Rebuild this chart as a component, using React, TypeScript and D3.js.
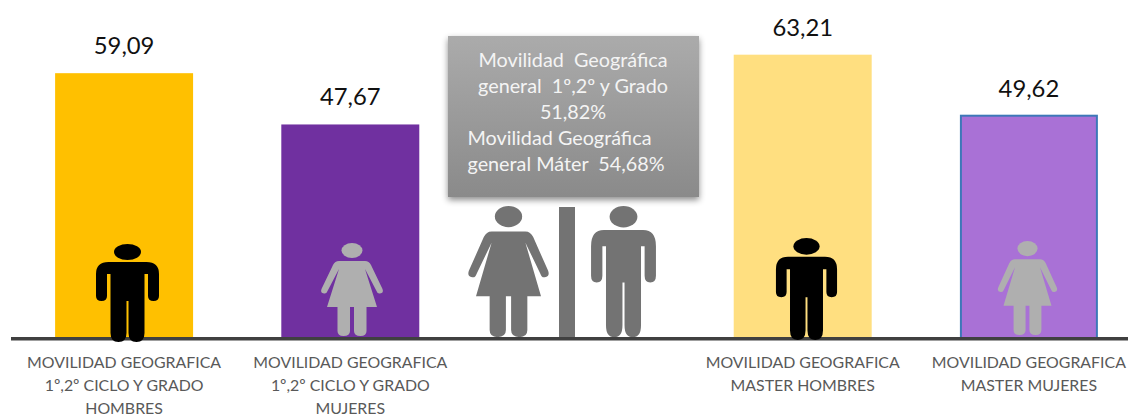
import React from "react";
import * as d3 from "d3";

const categories = ["hg", "mg", "centro", "hm", "mm"];
const barKeys = ["hg", "mg", "hm", "mm"];
const barValues = [59.09, 47.67, 63.21, 49.62];
const valueLabels = ["59,09", "47,67", "63,21", "49,62"];
const barColors = ["#FFC000", "#7030A0", "#FFDF80", "#A971D6"];
const barStrokes = ["none", "none", "none", "#3D78B8"];
const labelLines = [
  ["MOVILIDAD GEOGRAFICA", "1º,2º CICLO Y GRADO", "HOMBRES"],
  ["MOVILIDAD GEOGRAFICA", "1º,2º CICLO Y GRADO", "MUJERES"],
  ["MOVILIDAD GEOGRAFICA", "MASTER HOMBRES"],
  ["MOVILIDAD GEOGRAFICA", "MASTER MUJERES"],
];
const boxLines = [
  { text: "Movilidad  Geográfica", anchor: "middle" },
  { text: "general  1º,2º y Grado", anchor: "middle" },
  { text: "51,82%", anchor: "middle" },
  { text: "Movilidad Geográfica", anchor: "start" },
  { text: "general Máter  54,68%", anchor: "start" },
];

const W = 1128;
const H = 417;
const FONT = "Lato, Carlito, 'Open Sans', sans-serif";
const BASE = 338.5;

const x = d3.scaleBand<string>().domain(categories).range([11, 1142]).paddingInner(0.39).paddingOuter(0.195);
const y = d3.scaleLinear().domain([0, 75]).range([BASE, BASE - 75 * 4.49]);

const MAN_BODY =
  "M-19,18 H19 Q31.5,18 31.5,30 V52 Q31.5,57 26,57 Q20.5,57 20.5,52 V30 H17 V89 Q17,98 9,98 Q1,98 1,89 V57 H-1 V89 Q-1,98 -9,98 Q-17,98 -17,89 V30 H-20.5 V52 Q-20.5,57 -26,57 Q-31.5,57 -31.5,52 V30 Q-31.5,18 -19,18 Z";
const WOMAN_BODY =
  "M-13,18 H13 Q17,18 19,22 L30.5,46 Q32,50 28,50.5 Q25.5,51 24.5,48 L13,26 L25,64 H14.5 V88 Q14.5,93 8.5,93 Q2,93 2,88 V64 H-2 V88 Q-2,93 -8.5,93 Q-14.5,93 -14.5,88 V64 H-25 L-13,26 L-24.5,48 Q-25.5,51 -28,50.5 Q-32,50 -30.5,46 L-19,22 Q-17,18 -13,18 Z";

function Man({ cx, top, sx, sy, fill }: any) {
  return (
    <g transform={`translate(${cx},${top}) scale(${sx},${sy})`} fill={fill}>
      <ellipse cx={0} cy={8} rx={13.5} ry={8} />
      <path d={MAN_BODY} />
    </g>
  );
}
function Woman({ cx, top, sx, sy, fill }: any) {
  return (
    <g transform={`translate(${cx},${top}) scale(${sx},${sy})`} fill={fill}>
      <ellipse cx={0} cy={7.5} rx={10.5} ry={7.5} />
      <path d={WOMAN_BODY} />
    </g>
  );
}

export default function App() {
  document.body.style.margin = "0";
  return (
    <svg width={W} height={H} viewBox={`0 0 ${W} ${H}`} style={{ display: "block", background: "#fff", fontFamily: FONT }}>
      <defs>
        <linearGradient id="box" x1="0" y1="0" x2="0" y2="1">
          <stop offset="0" stopColor="#ababab" />
          <stop offset="1" stopColor="#8a8a8a" />
        </linearGradient>
        <filter id="sh" x="-5%" y="-5%" width="110%" height="115%">
          <feDropShadow dx="0" dy="3" stdDeviation="3" floodColor="#000" floodOpacity="0.45" />
        </filter>
      </defs>

      {barKeys.map((k, i) => {
        const stroked = barStrokes[i] !== "none";
        return (
          <rect
            key={k}
            x={x(k)! + (stroked ? 1 : 0)}
            y={y(barValues[i])}
            width={x.bandwidth() - (stroked ? 2 : 0)}
            height={BASE - y(barValues[i])}
            fill={barColors[i]}
            stroke={barStrokes[i]}
            strokeWidth={stroked ? 2 : 0}
          />
        );
      })}

      <rect x={448} y={36} width={251} height={161} fill="url(#box)" filter="url(#sh)" />
      {boxLines.map((l, i) => (
        <text
          key={i}
          x={l.anchor === "middle" ? 573 : 467.5}
          y={66.5 + i * 26}
          textAnchor={l.anchor}
          fontSize={19.8}
          fill="#f4f4f4"
          style={{ whiteSpace: "pre" }}
        >
          {l.text}
        </text>
      ))}

      <rect x={559} y={207} width={16} height={131} fill="#737373" />
      <Woman cx={508.5} top={206} sx={1.3} sy={1.41} fill="#737373" />
      <Man cx={623.5} top={206} sx={1.03} sy={1.34} fill="#737373" />

      <line x1={11} x2={W} y1={338.8} y2={338.8} stroke="#404040" strokeWidth={3.6} />

      <Man cx={127.5} top={244} sx={1} sy={1} fill="#000" />
      <Woman cx={352} top={243} sx={1} sy={1} fill="#AFAFAF" />
      <Man cx={806.5} top={238} sx={0.97} sy={1.04} fill="#000" />
      <Woman cx={1027.5} top={241} sx={0.96} sy={1.01} fill="#AFAFAF" />

      {barKeys.map((k, i) => (
        <text key={k} x={x(k)! + x.bandwidth() / 2} y={y(barValues[i]) - 19} textAnchor="middle" fontSize={23.8} fill="#111">
          {valueLabels[i]}
        </text>
      ))}

      {barKeys.map((k, i) =>
        labelLines[i].map((t, j) => (
          <text key={k + j} x={x(k)! + x.bandwidth() / 2} y={368 + j * 23} textAnchor="middle" fontSize={15.9} fill="#595959">
            {t}
          </text>
        ))
      )}
    </svg>
  );
}
